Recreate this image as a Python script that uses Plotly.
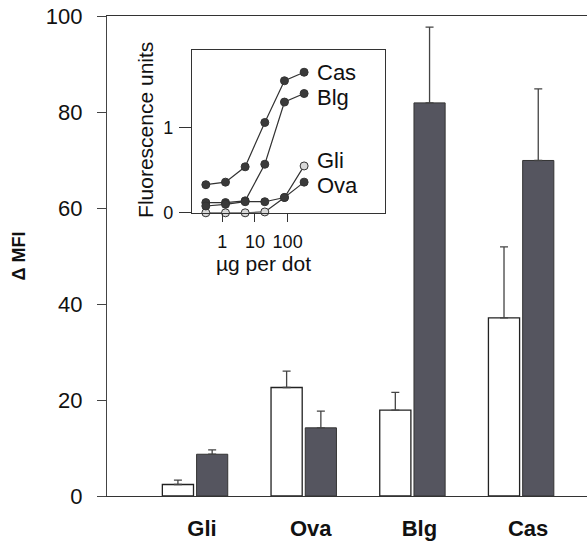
import plotly.graph_objects as go
import numpy as np

# Main bar chart data
categories = ["Gli", "Ova", "Blg", "Cas"]
white_vals = [2.4, 22.6, 17.9, 37.1]
white_err = [0.9, 3.4, 3.7, 14.8]
dark_vals = [8.7, 14.2, 81.9, 69.9]
dark_err = [0.9, 3.5, 15.8, 14.9]

# Inset dose-response data
doses = [0.3125, 1.25, 5, 20, 80, 320]
cas_curve = [0.33, 0.36, 0.54, 1.06, 1.55, 1.65]
blg_curve = [0.12, 0.12, 0.14, 0.57, 1.30, 1.40]
ova_curve = [0.08, 0.10, 0.13, 0.13, 0.18, 0.36]
gli_curve = [0.0, 0.0, 0.0, 0.01, 0.18, 0.55]

FONT = "Liberation Sans"
DARK = "#55555f"
LINE = "#222222"

xs = list(range(len(categories)))
fig = go.Figure()
fig.add_trace(go.Bar(
    x=xs, y=white_vals, marker=dict(color="white", line=dict(color=LINE, width=1.3)),
    error_y=dict(type="data", array=white_err, arrayminus=[0]*4, symmetric=False,
                 color="#444", thickness=1.3, width=4),
    showlegend=False, xaxis="x", yaxis="y"))
fig.add_trace(go.Bar(
    x=xs, y=dark_vals, marker=dict(color=DARK, line=dict(color="#333", width=1)),
    error_y=dict(type="data", array=dark_err, arrayminus=[0]*4, symmetric=False,
                 color="#444", thickness=1.3, width=4),
    showlegend=False, xaxis="x", yaxis="y"))

curves = [("Cas", cas_curve, "#3a3a3a"),
          ("Blg", blg_curve, "#3a3a3a"),
          ("Gli", gli_curve, "#d8d8d8"),
          ("Ova", ova_curve, "#3a3a3a")]
for name, vals, mcol in curves:
    fig.add_trace(go.Scatter(
        x=doses, y=vals, mode="lines+markers", xaxis="x2", yaxis="y2",
        line=dict(color="#333", width=1.2),
        marker=dict(color=mcol, size=8, line=dict(color="#333", width=1)),
        cliponaxis=False, showlegend=False))

label_shift = {"Cas": 0, "Blg": -4, "Gli": 5, "Ova": -3}
for name, vals, _ in curves:
    fig.add_annotation(x=np.log10(doses[-1]), y=vals[-1], xref="x2", yref="y2",
                       text=name, showarrow=False, xanchor="left", yanchor="middle",
                       xshift=11, yshift=label_shift[name],
                       font=dict(family=FONT, size=22, color="#111"))

fig.add_annotation(x=-0.241, y=0.512, xref="x2 domain", yref="y2 domain",
                   xanchor="center", yanchor="middle",
                   text="Fluorescence units", textangle=-90, showarrow=False,
                   font=dict(family=FONT, size=21, color="#111"))
fig.add_annotation(x=0.373, y=-0.31, xref="x2 domain", yref="y2 domain",
                   xanchor="center", yanchor="middle",
                   text="µg per dot", showarrow=False,
                   font=dict(family=FONT, size=21, color="#111"))

fig.update_layout(
    width=587, height=546,
    margin=dict(l=107, r=0, t=16, b=50),
    plot_bgcolor="white", paper_bgcolor="white",
    barmode="group", bargap=0.37, bargroupgap=0.09,
    xaxis=dict(range=[-0.81, 3.606], tickvals=xs, ticktext=categories,
               showline=True, linecolor="#333", linewidth=1.3, mirror=True,
               ticks="", showgrid=False, zeroline=False,
               tickfont=dict(family=FONT, size=22, color="#111", weight="bold"),
               ticklabelstandoff=12, ticklabelshift=7),
    yaxis=dict(range=[0, 100], tickvals=[0, 20, 40, 60, 80, 100],
               showline=True, linecolor="#444", linewidth=1.3,
               ticks="outside", ticklen=9, tickcolor="#444",
               showgrid=False, zeroline=False,
               tickfont=dict(family=FONT, size=22, color="#111"),
               ticklabelstandoff=10,
               title=dict(text="Δ MFI", standoff=15,
                          font=dict(family=FONT, size=18, color="#111", weight="bold"))),
    xaxis2=dict(type="log", range=[-0.93, 4.98], domain=[0.177, 0.579], anchor="y2",
                tickvals=[1, 10, 100], ticktext=["1", "10", "100"],
                showline=True, linecolor="#333", linewidth=1.2, mirror=True,
                ticks="outside", ticklen=8, tickcolor="#333",
                showgrid=False, zeroline=False, ticklabelstandoff=4,
                tickfont=dict(family=FONT, size=18, color="#111")),
    yaxis2=dict(range=[0, 1.91], domain=[0.590, 0.929], anchor="x2",
                tickvals=[0, 1], showline=True, linecolor="#333", linewidth=1.2,
                mirror=True, ticks="outside", ticklen=12, tickcolor="#333",
                showgrid=False, zeroline=False, ticklabelstandoff=2,
                tickfont=dict(family=FONT, size=18, color="#111")),
)

fig.write_html("out.html")
